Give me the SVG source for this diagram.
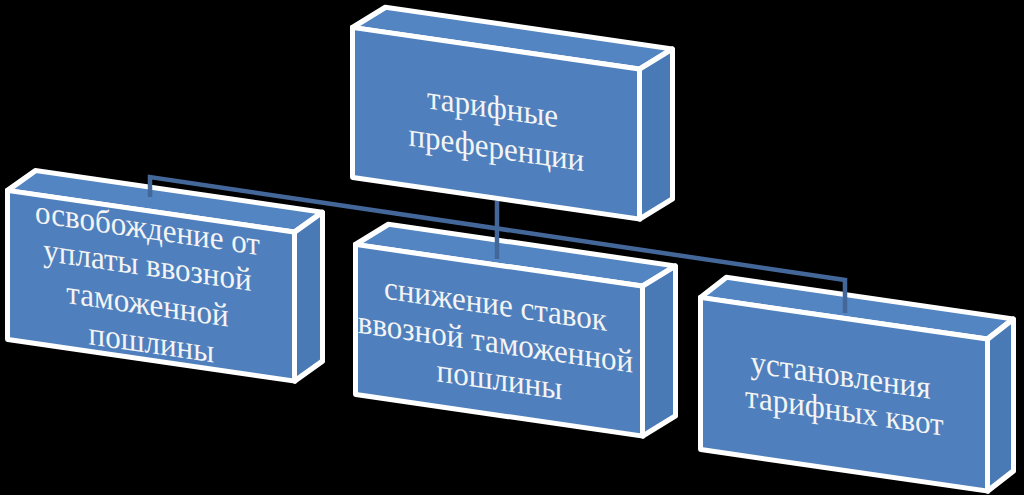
<svg xmlns="http://www.w3.org/2000/svg" width="1024" height="495" viewBox="0 0 1024 495">
<style>
.front{fill:#4f80bd;stroke:#ffffff;stroke-width:5;stroke-linejoin:round}
.top{fill:#5385c2;stroke:#ffffff;stroke-width:5;stroke-linejoin:round}
.side{fill:#4a7ab5;stroke:#ffffff;stroke-width:5;stroke-linejoin:round}
.lbl{font-family:"Liberation Serif","Times New Roman",serif;font-size:33px;fill:#f4f4f4;text-anchor:middle}
.conn{fill:none;stroke:#44679a;stroke-width:4.5}
</style>
<rect width="1024" height="495" fill="#000000"/>

<g id="node-left" transform="translate(7.5,190.5) skewY(8.25)">
<polygon class="top" points="0,0 28,-24 315,-24 287,0"/>
<polygon class="side" points="287,0 315,-24 315,125 287,149"/>
<rect class="front" x="0" y="0" width="287" height="149"/>
<text class="lbl" transform="scale(0.94,1)" x="153">
<tspan x="153" y="28">освобождение от</tspan>
<tspan x="153" y="65">уплаты ввозной</tspan>
<tspan x="153" y="104">таможенной</tspan>
<tspan x="153" y="142">пошлины</tspan>
</text>
</g>

<g id="node-middle" transform="translate(355.5,244.5) skewY(8.25)">
<polygon class="top" points="0,0 33,-25 320,-25 287,0"/>
<polygon class="side" points="287,0 320,-25 320,125 287,150"/>
<rect class="front" x="0" y="0" width="287" height="150"/>
<text class="lbl" transform="scale(0.94,1)" x="153">
<tspan x="153" y="50">снижение ставок</tspan>
<tspan x="153" y="88">ввозной таможенной</tspan>
<tspan x="153" y="125">пошлины</tspan>
</text>
</g>

<g id="node-right" transform="translate(700.5,297.5) skewY(8.25)">
<polygon class="top" points="0,0 26,-24 313,-24 287,0"/>
<polygon class="side" points="287,0 313,-24 313,128 287,152"/>
<rect class="front" x="0" y="0" width="287" height="152"/>
<text class="lbl" transform="scale(0.94,1)" x="153">
<tspan x="153" y="68">установления</tspan>
<tspan x="153" y="103">тарифных квот</tspan>
</text>
</g>

<g id="connectors">
<path class="conn" d="M150,197 V177 L845,280 V313"/>
<path class="conn" d="M497,201 V259"/>
</g>

<g id="node-top" transform="translate(352.5,27.5) skewY(8.25)">
<polygon class="top" points="0,0 33,-25 320,-25 287,0"/>
<polygon class="side" points="287,0 320,-25 320,125 287,150"/>
<rect class="front" x="0" y="0" width="287" height="150"/>
<text class="lbl" transform="scale(0.94,1)" x="153">
<tspan x="153" y="70">тарифные</tspan>
<tspan x="153" y="110">преференции</tspan>
</text>
</g>
</svg>
